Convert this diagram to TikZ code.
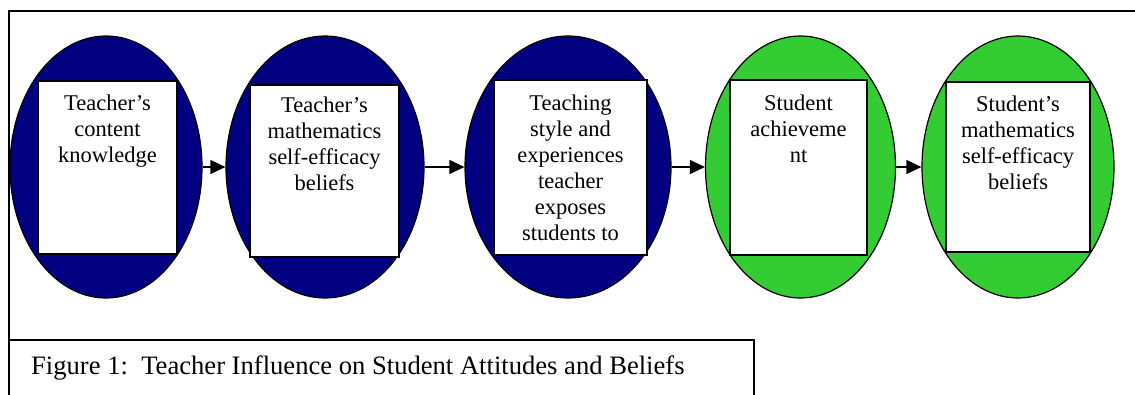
\documentclass[tikz,border=0pt]{standalone}
\usepackage{fontspec}
\setmainfont{Liberation Serif}
\usetikzlibrary{shapes.geometric,arrows.meta}
\definecolor{navyfill}{RGB}{0,0,128}
\definecolor{greenfill}{RGB}{51,204,51}
\tikzset{
  oval/.style={ellipse, draw=black, line width=1.2pt, inner sep=0pt, minimum height=262pt},
  whitebox/.style={rectangle, draw=black, fill=white, line width=1.6pt, inner sep=0pt},
  boxtext/.style={anchor=north, inner sep=0pt, align=center, font=\fontsize{22.5}{26}\selectfont},
  arr/.style={line width=1.2pt, -{Triangle[length=15pt,width=14pt]}},
  frameline/.style={line width=1.8pt},
}
\begin{document}
\begin{tikzpicture}[x=1pt,y=-1pt]
\useasboundingbox (0,0) rectangle (1135,394);
% outer frame
\coordinate (ftl) at (9,11);
\coordinate (ftr) at (1136,11);
\coordinate (fbl) at (9,395);
\draw[frameline] (ftr) -- (ftl) -- (fbl);
% caption box
\coordinate (cbl) at (9,340);
\coordinate (cbr) at (754,340);
\coordinate (cbb) at (754,395);
\draw[frameline] (cbl) -- (cbr) -- (cbb);
\node[anchor=base west, inner sep=0pt, font=\fontsize{26.6}{30}\selectfont] (cap) at (31,374) {Figure 1:\ \ Teacher Influence on Student Attitudes and Beliefs};
% ellipses
\node[oval, fill=navyfill, minimum width=192pt] (e1) at (106,167) {};
\node[oval, fill=navyfill, minimum width=198pt] (e2) at (325,167) {};
\node[oval, fill=navyfill, minimum width=206pt] (e3) at (568,167) {};
\node[oval, fill=greenfill, minimum width=190pt] (e4) at (800.5,167) {};
\node[oval, fill=greenfill, minimum width=192pt] (e5) at (1018,167) {};
% white boxes
\node[whitebox, minimum width=139pt, minimum height=173pt] (r1) at (107.5,167.5) {};
\node[whitebox, minimum width=149pt, minimum height=172pt] (r2) at (324.5,171) {};
\node[whitebox, minimum width=153pt, minimum height=175pt] (r3) at (570.5,167.5) {};
\node[whitebox, minimum width=137pt, minimum height=175pt] (r4) at (798.5,167.5) {};
\node[whitebox, minimum width=144pt, minimum height=170pt] (r5) at (1018,167) {};
% texts
\node[boxtext] (t1) at (107.5,95) {Teacher’s\\content\\knowledge};
\node[boxtext] (t2) at (324.5,97) {Teacher’s\\mathematics\\self-efficacy\\beliefs};
\node[boxtext] (t3) at (570.5,95) {Teaching\\style and\\experiences\\teacher\\exposes\\students to};
\node[boxtext] (t4) at (798.5,95) {Student\\achieveme\\nt};
\node[boxtext] (t5) at (1018,96) {Student’s\\mathematics\\self-efficacy\\beliefs};
% arrows
\draw[arr] (e1.east) -- (e2.west);
\draw[arr] (e2.east) -- (e3.west);
\draw[arr] (e3.east) -- (e4.west);
\draw[arr] (e4.east) -- (e5.west);
\end{tikzpicture}
\end{document}
